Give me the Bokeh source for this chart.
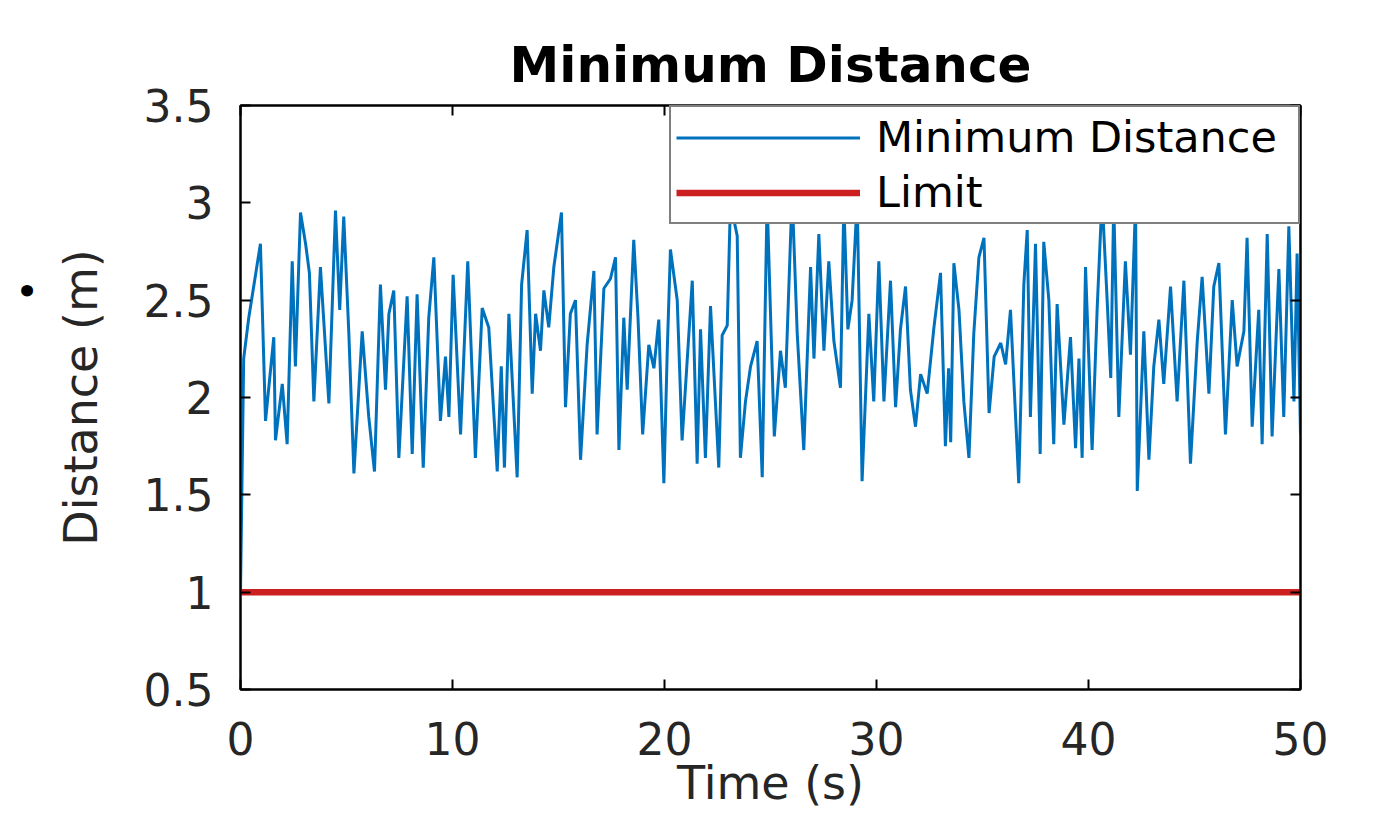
from bokeh.plotting import figure
from bokeh.models import Range1d, LinearAxis, Legend, LegendItem, FixedTicker, Title
from bokeh.embed import file_html
from bokeh.resources import INLINE

# ---------------- data ----------------
time_s = [0.00, 0.15, 0.39, 0.94, 1.18, 1.57, 1.65, 1.97, 2.20, 2.44, 2.59, 2.83,
          3.07, 3.25, 3.46, 3.77, 4.17, 4.48, 4.68, 4.87, 5.11, 5.35, 5.74, 6.05,
          6.32, 6.60, 6.84, 7.00, 7.23, 7.47, 7.86, 8.10, 8.33, 8.62, 8.88, 9.12,
          9.43, 9.67, 9.83, 10.03, 10.38, 10.72, 11.08, 11.40, 11.71, 12.11, 12.30,
          12.45, 12.66, 13.05, 13.26, 13.52, 13.76, 13.92, 14.15, 14.31, 14.54,
          14.78, 15.14, 15.33, 15.56, 15.80, 16.04, 16.35, 16.67, 16.82, 17.14,
          17.45, 17.69, 17.85, 18.08, 18.24, 18.55, 18.75, 18.97, 19.26, 19.50,
          19.73, 19.97, 20.13, 20.28, 20.60, 20.83, 21.07, 21.31, 21.54, 21.70,
          21.93, 22.17, 22.56, 22.72, 22.96, 23.11, 23.43, 23.58, 23.82, 24.06,
          24.37, 24.61, 24.84, 25.05, 25.18, 25.47, 25.70, 26.02, 26.26, 26.57,
          26.89, 27.05, 27.28, 27.52, 27.75, 27.99, 28.30, 28.46, 28.65, 28.85,
          29.09, 29.32, 29.64, 29.87, 30.11, 30.35, 30.66, 30.90, 31.13, 31.37,
          31.60, 31.84, 32.08, 32.39, 32.71, 33.02, 33.25, 33.40, 33.50, 33.65,
          33.89, 34.12, 34.36, 34.59, 34.83, 35.07, 35.31, 35.55, 35.86, 36.09,
          36.32, 36.71, 36.95, 37.11, 37.26, 37.50, 37.72, 37.89, 38.13, 38.36,
          38.52, 38.84, 39.15, 39.39, 39.55, 39.70, 39.86, 40.17, 40.41, 40.64,
          40.88, 41.05, 41.19, 41.43, 41.74, 41.98, 42.22, 42.30, 42.61, 42.85,
          43.08, 43.32, 43.55, 43.87, 44.18, 44.50, 44.81, 45.13, 45.36, 45.68,
          45.91, 46.15, 46.46, 46.78, 47.01, 47.33, 47.48, 47.72, 48.03, 48.19,
          48.43, 48.66, 48.98, 49.21, 49.45, 49.69, 49.84, 50.00]

min_distance = [1.00, 2.20, 2.41, 2.79, 1.88, 2.31, 1.78, 2.07, 1.76, 2.70, 2.16, 2.95,
                2.79, 2.64, 1.98, 2.67, 1.97, 2.96, 2.45, 2.93, 2.33, 1.61, 2.34, 1.90,
                1.62, 2.58, 2.04, 2.43, 2.55, 1.69, 2.52, 1.71, 2.53, 1.64, 2.41, 2.72,
                1.88, 2.21, 1.90, 2.63, 1.81, 2.70, 1.69, 2.46, 2.36, 1.62, 2.16,
                1.64, 2.43, 1.59, 2.58, 2.86, 2.02, 2.43, 2.24, 2.55, 2.36,
                2.67, 2.95, 1.95, 2.43, 2.50, 1.68, 2.27, 2.65, 1.81, 2.56,
                2.61, 2.72, 1.73, 2.41, 2.04, 2.81, 2.41, 1.81, 2.27, 2.15,
                2.40, 1.56, 2.24, 2.76, 2.50, 1.78, 2.19, 2.60, 1.66, 2.35,
                1.69, 2.47, 1.64, 2.32, 2.37, 3.00, 2.83, 1.69, 1.98, 2.16,
                2.29, 1.59, 3.02, 2.25, 1.80, 2.24, 2.05, 3.05, 2.33, 1.73,
                2.67, 2.20, 2.84, 2.24, 2.70, 2.29, 2.05, 3.00, 2.35, 2.50,
                3.02, 1.57, 2.43, 1.98, 2.70, 1.98, 2.60, 1.95, 2.35, 2.57,
                2.04, 1.85, 2.12, 2.02, 2.36, 2.64, 1.75, 2.15, 1.77, 2.69,
                2.45, 1.98, 1.69, 2.33, 2.72, 2.82, 1.92, 2.21, 2.28, 2.17,
                2.45, 1.56, 2.58, 2.86, 1.90, 2.79, 1.71, 2.80, 2.50, 1.76,
                2.48, 1.86, 2.31, 1.74, 2.20, 1.69, 2.67, 1.73, 2.46, 3.03,
                2.50, 2.10, 3.00, 1.90, 2.70, 2.22, 3.00, 1.52, 2.34, 1.68,
                2.16, 2.40, 2.07, 2.57, 1.98, 2.60, 1.66, 2.29, 2.62, 2.02,
                2.57, 2.69, 1.81, 2.50, 2.16, 2.34, 2.82, 1.85, 2.45, 1.76,
                2.84, 1.80, 2.66, 1.90, 2.88, 1.98, 2.74, 1.81]

limit_time = [0, 50]
limit_value = [1, 1]

x_ticks = [0, 10, 20, 30, 40, 50]
x_tick_labels = ["0", "10", "20", "30", "40", "50"]
y_ticks = [0.5, 1, 1.5, 2, 2.5, 3, 3.5]
y_tick_labels = ["0.5", "1", "1.5", "2", "2.5", "3", "3.5"]

title_text = "Minimum Distance"
x_label = "Time (s)"
y_label = "Distance (m)"
series_names = ["Minimum Distance", "Limit"]
bullet_text = "\u2022"

# ---------------- styling ----------------
FONT = "DejaVu Sans"
BLUE = "#0072BD"
RED = "#CC1F1F"
TXT = "#262626"

p = figure(width=1399, height=828, output_backend="svg", toolbar_location=None,
           x_range=Range1d(0, 50), y_range=Range1d(0.5, 3.5),
           min_border_left=240, min_border_right=99, min_border_top=105,
           min_border_bottom=139, background_fill_color="white",
           border_fill_color="white")

p.title.text = title_text
p.title.text_font = FONT
p.title.text_font_size = "50px"
p.title.text_font_style = "bold"
p.title.text_color = "black"
p.title.align = "center"
p.title.standoff = 23

p.grid.visible = False
p.outline_line_color = "black"
p.outline_line_width = 2

xax = p.xaxis[0]
yax = p.yaxis[0]
xax.ticker = FixedTicker(ticks=x_ticks)
yax.ticker = FixedTicker(ticks=y_ticks)
xax.major_label_overrides = {float(v): s for v, s in zip(x_ticks, x_tick_labels)}
yax.major_label_overrides = {float(v): s for v, s in zip(y_ticks, y_tick_labels)}
for ax in (xax, yax):
    ax.axis_line_color = "black"
    ax.axis_line_width = 2
    ax.major_tick_in = 10
    ax.major_tick_out = 0
    ax.major_tick_line_width = 2
    ax.major_tick_line_color = "black"
    ax.minor_tick_line_color = None
    ax.major_label_text_font = FONT
    ax.major_label_text_font_size = "44px"
    ax.major_label_text_color = TXT
    ax.axis_label_text_font = FONT
    ax.axis_label_text_font_size = "46px"
    ax.axis_label_text_font_style = "normal"
    ax.axis_label_text_color = TXT

xax.axis_label = x_label
xax.major_label_standoff = 32
xax.axis_label_standoff = -2
yax.axis_label = y_label
yax.major_label_standoff = 27
yax.axis_label_standoff = 33

# box ticks on top and right (MATLAB "box on"): only tick marks, no labels
top_ax = LinearAxis(ticker=FixedTicker(ticks=[], minor_ticks=x_ticks))
right_ax = LinearAxis(ticker=FixedTicker(ticks=[], minor_ticks=y_ticks))
for ax in (top_ax, right_ax):
    ax.axis_line_color = "black"
    ax.axis_line_width = 2
    ax.major_tick_line_color = None
    ax.minor_tick_in = 10
    ax.minor_tick_out = 0
    ax.minor_tick_line_width = 2
    ax.minor_tick_line_color = "black"
    ax.major_label_standoff = 0
p.add_layout(top_ax, "above")
p.add_layout(right_ax, "right")

# stray bullet from the source document, left of the y axis label
bullet = Title(text=bullet_text, align="left", offset=387, standoff=0,
               text_font=FONT, text_font_size="40px", text_font_style="normal",
               text_color="black")
p.add_layout(bullet, "left")

r_dist = p.line(time_s, min_distance, line_color=BLUE, line_width=3)
r_lim = p.line(limit_time, limit_value, line_color=RED, line_width=6.5)

legend = Legend(items=[LegendItem(label=series_names[0], renderers=[r_dist]),
                       LegendItem(label=series_names[1], renderers=[r_lim])],
                location="top_right")
legend.margin = 0
legend.padding = 5
legend.spacing = 5
legend.glyph_width = 184
legend.glyph_height = 43
legend.label_height = 43
legend.label_width = 417
legend.label_standoff = 16
legend.label_text_font = FONT
legend.label_text_font_size = "43px"
legend.label_text_color = "black"
legend.border_line_color = "black"
legend.border_line_width = 2
legend.background_fill_color = "white"
legend.background_fill_alpha = 1.0
p.add_layout(legend, "center")

open("out.html", "w").write(file_html(p, INLINE))
